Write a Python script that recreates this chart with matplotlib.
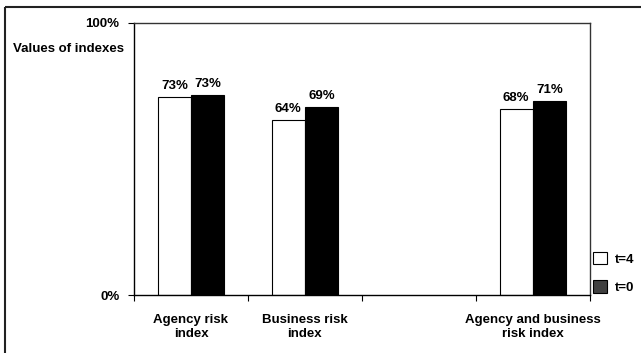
import numpy as np
import matplotlib.pyplot as plt
from matplotlib.patches import Patch
from matplotlib.lines import Line2D

plt.rcParams['font.family'] = ['Liberation Sans', 'DejaVu Sans']
plt.rcParams['font.weight'] = 'bold'
plt.rcParams['font.size'] = 9.5

# index values (share of max), one blank slot between the groups
categories = ['Agency risk\nindex', 'Business risk\nindex', '', 'Agency and business\nrisk index']
t4_values = [72.7, 64.3, np.nan, 68.4]
t0_values = [73.4, 69.1, np.nan, 71.2]
series_names = ['t=4', 't=0']

fig = plt.figure(figsize=(6.41, 3.53), dpi=100)
ax = fig.add_axes([0.209, 0.1643, 0.711, 0.7714])

x = np.arange(len(categories)) + 0.5
w = 0.29

b1 = ax.bar(x - w / 2, t4_values, w, color='white', edgecolor='black', linewidth=0.8)
b2 = ax.bar(x + w / 2, t0_values, w, color='black', edgecolor='black', linewidth=0.8)

for bars, vals in [(b1, t4_values), (b2, t0_values)]:
    for rect, v in zip(bars, vals):
        if np.isnan(v):
            continue
        ax.annotate('{:.0f}%'.format(v), (rect.get_x() + rect.get_width() / 2, v),
                    xytext=(0, 3.5), textcoords='offset points',
                    ha='center', va='bottom', fontweight='bold')

ax.set_xlim(0, len(categories))
ax.set_ylim(0, 100)

# group boundaries get the tick marks, centres get the names
ax.set_xticks(np.arange(len(categories) + 1))
ax.set_xticklabels([])
ax.set_xticks(x, minor=True)
ax.set_xticklabels(categories, minor=True, linespacing=1.15)
ax.tick_params(axis='x', which='major', direction='out', length=4, width=0.8)
ax.tick_params(axis='x', which='minor', length=0, pad=14)

ax.set_yticks([0, 100])
ax.set_yticklabels(['0%', '100%'])
ax.tick_params(axis='y', direction='out', length=4, width=0.8, pad=6.5)

for s in ['left', 'bottom']:
    ax.spines[s].set_color('black')
    ax.spines[s].set_linewidth(1)
for s in ['top', 'right']:
    ax.spines[s].set_color('#333333')
    ax.spines[s].set_linewidth(1)

fig.text(124 / 641, 1 - 49 / 353, 'Values of indexes', ha='right', va='center',
         fontweight='bold')

handles = [Patch(facecolor='white', edgecolor='black', linewidth=0.8),
           Patch(facecolor='#404040', edgecolor='black', linewidth=0.8)]
ax.legend(handles, series_names, loc='lower left',
          bbox_to_anchor=(593 / 641, 1 - 294 / 353), bbox_transform=fig.transFigure,
          frameon=False, handlelength=1.06, handleheight=1.06, handletextpad=0.6,
          labelspacing=1.1, borderpad=0, borderaxespad=0)

# outer frame: left edge and top edge only
fx, fy = 5 / 641, 1 - 7 / 353
fig.lines.append(Line2D([fx, fx], [0, fy], transform=fig.transFigure,
                        color='#222222', linewidth=1.5, solid_capstyle='butt'))
fig.lines.append(Line2D([fx, 1.0], [fy, fy], transform=fig.transFigure,
                        color='#222222', linewidth=1.5, solid_capstyle='butt'))

fig.savefig('out.png', dpi=100)
